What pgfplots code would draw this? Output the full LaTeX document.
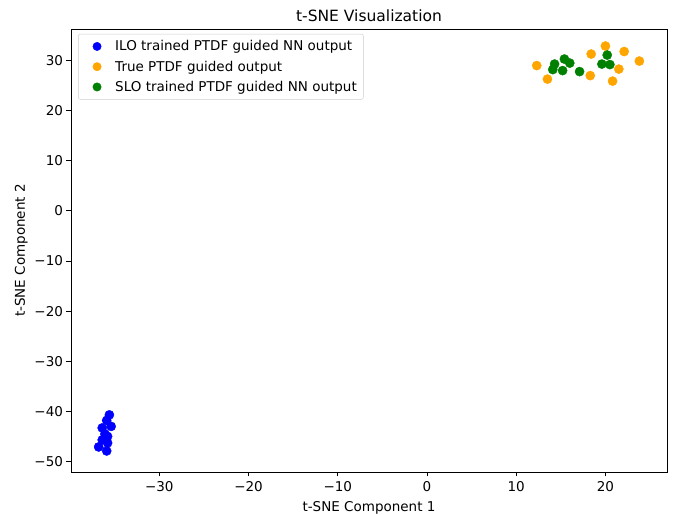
\documentclass[border=0pt]{standalone}
\usepackage{fontspec}
\setmainfont{DejaVu Sans}
\usepackage{pgfplots}
\pgfplotsset{compat=1.18}

\definecolor{mplorange}{RGB}{255,165,0}
\definecolor{mplgreen}{RGB}{0,128,0}

\begin{document}
\begin{tikzpicture}
\begin{axis}[
    scale only axis,
    width=596pt, height=443pt,
    xmin=-39.9, xmax=26.9,
    ymin=-52.1, ymax=36.3,
    xtick={-30,-20,...,20},
    xticklabels={−30,−20,−10,0,10,20},
    ytick={-50,-40,...,30},
    yticklabels={−50,−40,−30,−20,−10,0,10,20,30},
    tick align=outside,
    tick pos=left,
    major tick length=4.5pt,
    tick style={black, line width=0.9pt},
    axis line style={line width=0.9pt},
    ticklabel style={font=\fontsize{13.5}{15}\selectfont},
    xticklabel style={yshift=-1pt},
    xlabel={t-SNE Component 1},
    ylabel={t-SNE Component 2},
    label style={font=\fontsize{13.5}{15}\selectfont},
    xlabel style={yshift=-3pt},
    title={t-SNE Visualization},
    title style={font=\fontsize{15.5}{18}\selectfont, yshift=-2pt},
    legend style={
        at={(rel axis cs:0.012,0.989)}, anchor=north west,
        font=\fontsize{13.5}{15}\selectfont,
        draw=black!20, rounded corners=2pt,
        row sep=4.5pt, inner sep=4.5pt,
    },
    legend image code/.code={
        \path (0pt,0pt) (30pt,0pt);
        \draw[#1, mark size=4.2pt] plot coordinates {(14pt,0pt)};
    },
    legend cell align=left,
    clip=false,
]
\coordinate (ll) at (rel axis cs:0,0);
\coordinate (ur) at (rel axis cs:1,1);

\addplot[only marks, mark=*, mark size=4.6pt, color=blue] coordinates {
(-35.6,-40.7) (-35.9,-41.8) (-35.4,-43.0) (-36.4,-43.3) (-36.1,-44.5)
(-35.8,-45.0) (-36.4,-45.7) (-35.8,-46.3) (-36.8,-47.1) (-35.9,-47.9)
};
\addlegendentry{ILO trained PTDF guided NN output}

\addplot[only marks, mark=*, mark size=4.6pt, color=mplorange] coordinates {
(12.3,29.0) (13.5,26.3) (18.4,31.3) (18.3,27.0) (20.0,32.9)
(22.1,31.8) (23.8,29.9) (21.5,28.3) (20.8,25.9)
};
\addlegendentry{True PTDF guided output}

\addplot[only marks, mark=*, mark size=4.6pt, color=mplgreen] coordinates {
(14.3,29.3) (14.1,28.2) (15.4,30.3) (16.0,29.5) (15.2,28.0)
(17.1,27.8) (20.2,31.1) (19.6,29.3) (20.5,29.2)
};
\addlegendentry{SLO trained PTDF guided NN output}
\end{axis}
\pgfresetboundingbox
\path ([shift={(-71pt,-43pt)}]ll) rectangle ([shift={(17pt,29pt)}]ur);
\end{tikzpicture}
\end{document}
